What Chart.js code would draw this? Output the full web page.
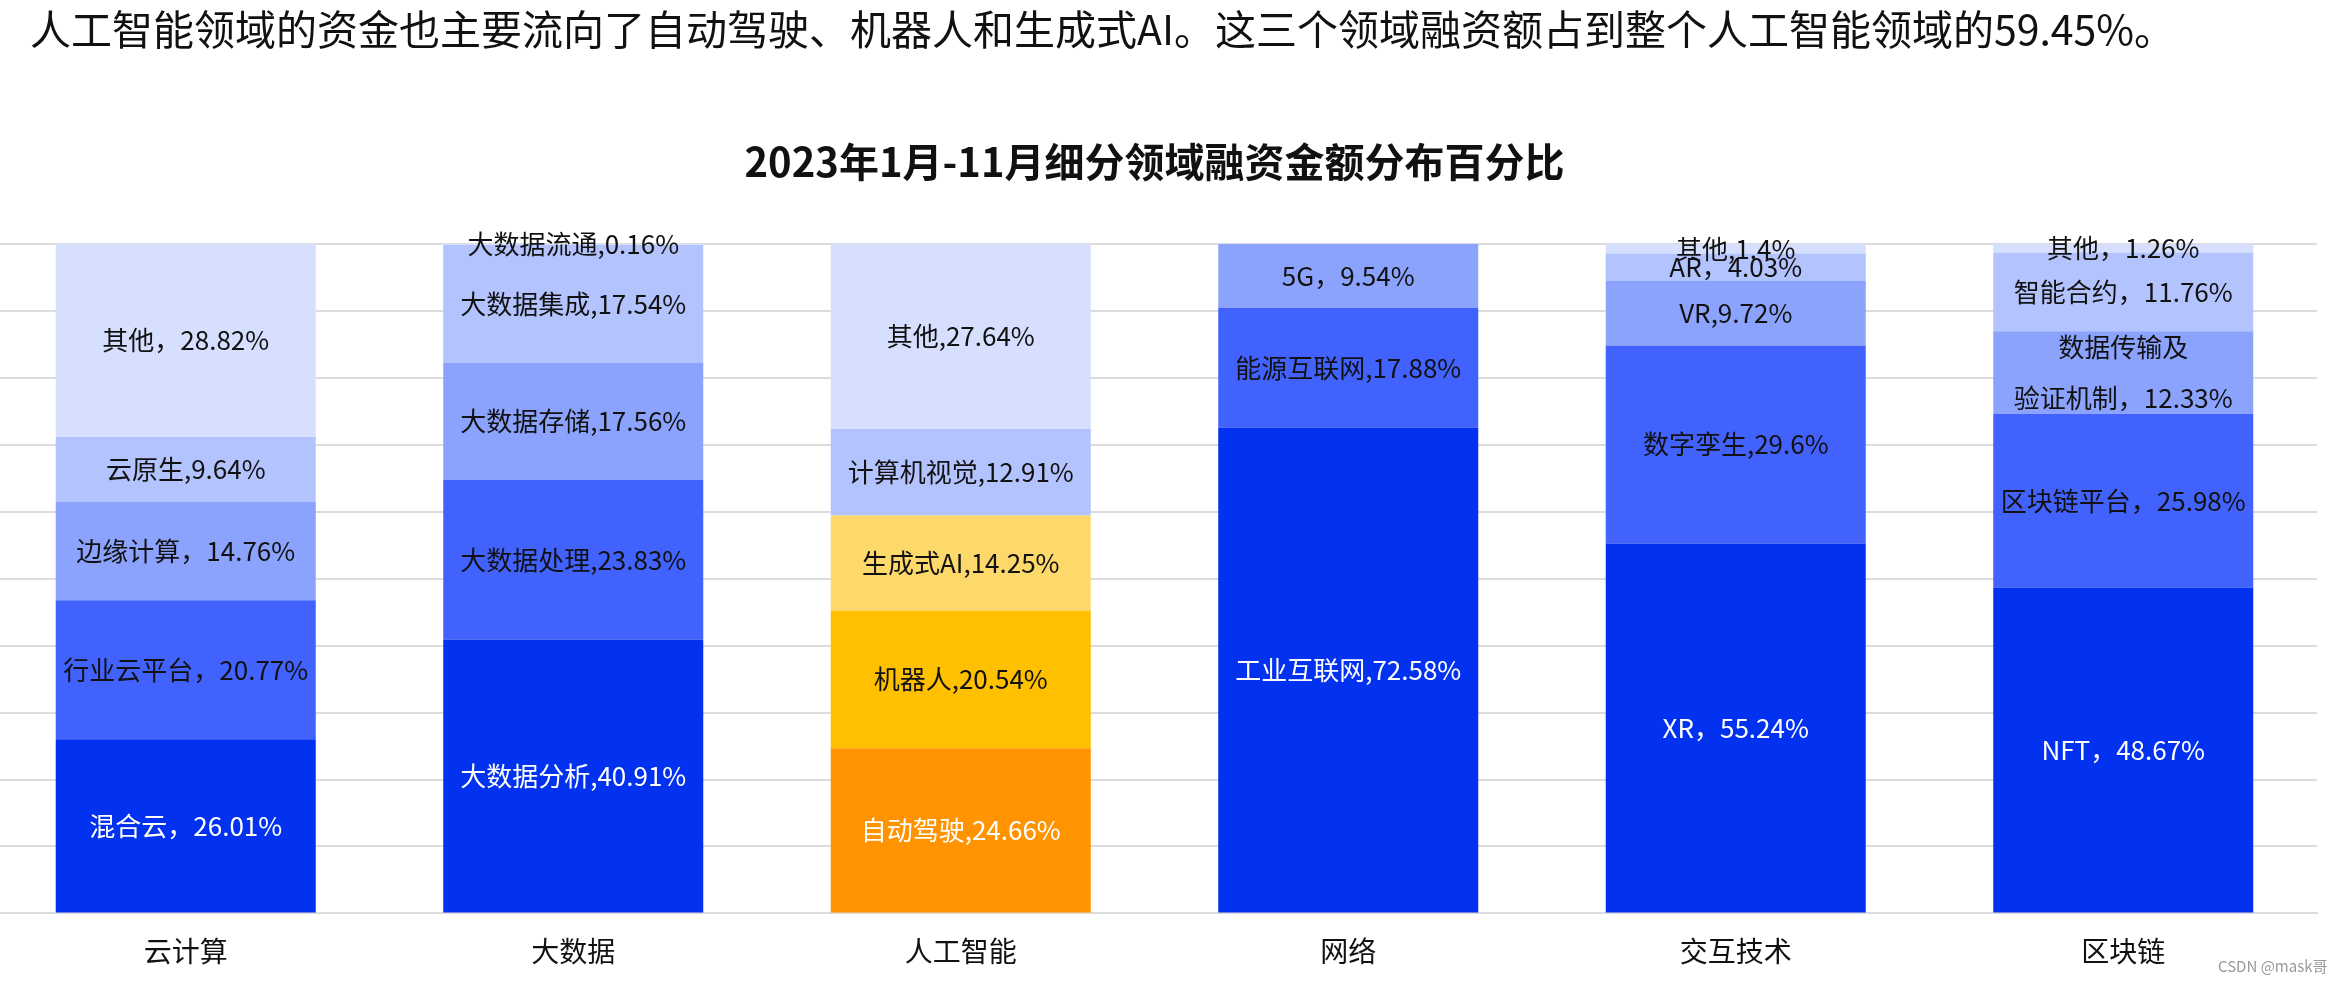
<!DOCTYPE html>
<html><head><meta charset="utf-8">
<script src="https://cdn.jsdelivr.net/npm/chart.js@4.4.1/dist/chart.umd.min.js"></script>
<style>
html,body{margin:0;padding:0;background:#fff;width:2349px;height:981px;overflow:hidden;font-family:"Noto Sans CJK SC",sans-serif;}
#note{position:absolute;left:30px;top:1px;font-size:41px;line-height:52px;color:#111;white-space:nowrap;}
#wrap{position:absolute;left:-8px;top:0;width:2357px;height:1003px;}
#credit{position:absolute;left:2218px;top:955px;font-size:15px;color:#9a9a9a;white-space:nowrap;}
</style></head><body>
<div id="wrap"><canvas id="c" width="2357" height="1003"></canvas></div>
<div id="note">人工智能领域的资金也主要流向了自动驾驶、机器人和生成式AI。这三个领域融资额占到整个人工智能领域的59.45%。</div>
<div id="credit">CSDN @mask哥</div>
<script>
// ---- data ----
const categories = ['云计算','大数据','人工智能','网络','交互技术','区块链'];
const level1Values = [26.01, 40.91, 24.66, 72.58, 55.24, 48.67];
const level2Values = [20.77, 23.83, 20.54, 17.88, 29.6, 25.98];
const level3Values = [14.76, 17.56, 14.25, 9.54, 9.72, 12.33];
const level4Values = [9.64, 17.54, 12.91, null, 4.03, 11.76];
const level5Values = [28.82, 0.16, 27.64, null, 1.4, 1.26];
const level1Labels = ['混合云，26.01%','大数据分析,40.91%','自动驾驶,24.66%','工业互联网,72.58%','XR，55.24%','NFT，48.67%'];
const level2Labels = ['行业云平台，20.77%','大数据处理,23.83%','机器人,20.54%','能源互联网,17.88%','数字孪生,29.6%','区块链平台，25.98%'];
const level3Labels = ['边缘计算，14.76%','大数据存储,17.56%','生成式AI,14.25%','5G，9.54%','VR,9.72%','数据传输及\n验证机制，12.33%'];
const level4Labels = ['云原生,9.64%','大数据集成,17.54%','计算机视觉,12.91%','','AR，4.03%','智能合约，11.76%'];
const level5Labels = ['其他，28.82%','大数据流通,0.16%','其他,27.64%','','其他,1.4%','其他，1.26%'];
const chartTitle = '2023年1月-11月细分领域融资金额分布百分比';

// ---- styles ----
const blueShades = ['#0231EF','#4262FE','#8CA3FE','#B3C3FE','#D7DFFE'];
const aiShades = ['#FF9300','#FFC000','#FDD86A','#B3C3FE','#D7DFFE'];
const aiIndex = 2;
const FONT = '"Noto Sans CJK SC", "Noto Sans", sans-serif';

const levels = [level1Values, level2Values, level3Values, level4Values, level5Values];
const labels = [level1Labels, level2Labels, level3Labels, level4Labels, level5Labels];

function colorFor(level, i){ return i === aiIndex ? aiShades[level] : blueShades[level]; }
function textColorFor(level){ return level === 0 ? '#ffffff' : '#111111'; }

const datasets = levels.map((vals, L) => ({
  label: 'level' + (L+1),
  data: vals,
  backgroundColor: categories.map((_, i) => colorFor(L, i)),
  borderWidth: 0,
  categoryPercentage: 1.0,
  barPercentage: 0.671
}));

const segLabels = {
  id: 'segLabels',
  afterDatasetsDraw(chart){
    const ctx = chart.ctx;
    ctx.save();
    ctx.font = '26px ' + FONT;
    ctx.textAlign = 'center';
    ctx.textBaseline = 'middle';
    chart.data.datasets.forEach((ds, L) => {
      const meta = chart.getDatasetMeta(L);
      meta.data.forEach((bar, i) => {
        const txt = labels[L][i];
        if (ds.data[i] == null || !txt) return;
        const lines = txt.split('\n');
        const cy = (bar.y + bar.base) / 2;
        ctx.fillStyle = textColorFor(L);
        lines.forEach((ln, k) => ctx.fillText(ln, bar.x, cy + (k - (lines.length - 1) / 2) * 51));
      });
    });
    ctx.restore();
  }
};

new Chart(document.getElementById('c'), {
  type: 'bar',
  data: { labels: categories, datasets },
  options: {
    responsive: false,
    animation: false,
    devicePixelRatio: 1,
    layout: { padding: { left: 0, right: 32, top: 0, bottom: 14 } },
    plugins: {
      legend: { display: false },
      tooltip: { enabled: false },
      title: {
        display: true, text: chartTitle, color: '#111',
        font: { size: 40, weight: 'bold', family: FONT, lineHeight: 1.2 },
        padding: { top: 138, bottom: 58 }
      }
    },
    scales: {
      x: {
        stacked: true,
        grid: { display: false, drawTicks: false },
        border: { display: true, color: '#dcdcdc', width: 2 },
        ticks: { color: '#111', font: { size: 28, family: FONT }, padding: 21 }
      },
      y: {
        stacked: true, min: 0, max: 100,
        ticks: { display: false, stepSize: 10 },
        grid: { color: '#dcdcdc', lineWidth: 2, drawTicks: false },
        border: { display: false }
      }
    }
  },
  plugins: [segLabels]
});
</script>
</body></html>
